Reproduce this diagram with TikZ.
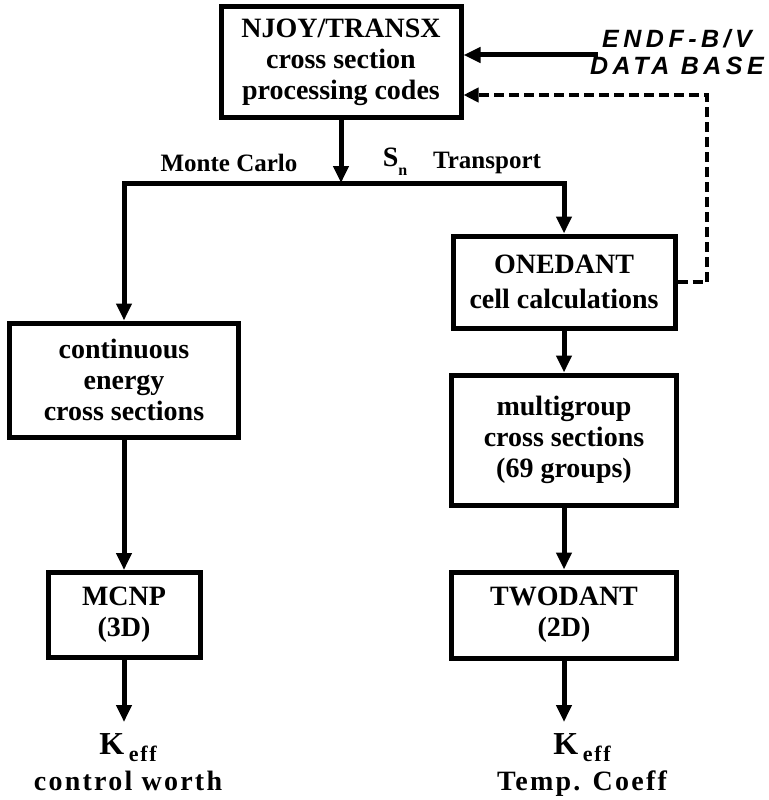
\documentclass[tikz,border=0pt]{standalone}
\usepackage{fontspec}
\setmainfont{Liberation Serif}
\newfontfamily\dbfont[LetterSpace=18]{Liberation Sans}
\newfontfamily\widefont[LetterSpace=8]{Liberation Serif}
\usetikzlibrary{arrows.meta}

\begin{document}
\begin{tikzpicture}[x=1pt,y=-1pt,
  box/.style={draw,line width=5pt,align=center,inner sep=0pt,
    font=\fontsize{28}{31}\selectfont\bfseries},
  flow/.style={line width=5pt,line join=miter,-{Triangle[length=17pt,width=15pt]}},
  feed/.style={line width=4pt,dash pattern=on 10pt off 5pt,-{Triangle[length=15pt,width=14pt]}},
  branch/.style={font=\fontsize{25}{28}\selectfont\bfseries},
  result/.style={align=center,inner xsep=0pt,inner ysep=11pt,anchor=north,
    font=\widefont\fontsize{28}{31}\selectfont\bfseries}]
\def\keff{{\fontsize{32}{32}\selectfont K}\,\raisebox{-7pt}{\fontsize{22}{22}\selectfont eff}}
\useasboundingbox (0,0) rectangle (768,800);

\node[box,minimum width=240pt,minimum height=110pt] (njoy) at (341,62) {NJOY/TRANSX\\cross section\\processing codes};
\node[font=\dbfont\fontsize{25}{27}\selectfont\bfseries\itshape,align=center] (endf) at (677,52) {ENDF-B/V\\DATA BASE};
\node[box,minimum width=229pt,minimum height=114pt] (cont) at (124,380) {continuous\\energy\\cross sections};
\node[box,minimum width=222pt,minimum height=92pt] (onedant) at (564,282) {ONEDANT\\[4pt]cell calculations};
\node[box,minimum width=225pt,minimum height=130pt] (multi) at (564,440) {multigroup\\cross sections\\(69 groups)};
\node[box,minimum width=152pt,minimum height=85pt] (mcnp) at (124,615) {MCNP\\(3D)};
\node[box,minimum width=225pt,minimum height=86pt] (twodant) at (564,615) {TWODANT\\(2D)};
\node[result] (kmc) at (128,722) {\keff\\[5pt]control worth};
\node[result] (ktw) at (582,722) {\keff\\[5pt]Temp. Coeff};

\node[branch] (mc) at (229,163) {Monte Carlo};
\node[branch] (sn) at (395,162) {{\fontsize{28}{28}\selectfont S}\raisebox{-9pt}{\fontsize{16}{16}\selectfont n}};
\node[branch] (tr) at (487,163) {Transport};

\coordinate (split) at (341,183);
\coordinate (db) at (598,55);
\coordinate (ret) at (707,95);

\draw[flow] (njoy) -- (split);
\draw[flow] (split) -| (cont);
\draw[flow] (split) -| (onedant);
\draw[flow] (db) -- (njoy.east |- db);
\draw[feed] (onedant) -| (ret) -- (njoy.east |- ret);
\draw[flow] (onedant) -- (multi);
\draw[flow] (multi) -- (twodant);
\draw[flow] (cont) -- (mcnp);
\draw[flow] (mcnp) -- (mcnp |- kmc.north);
\draw[flow] (twodant) -- (twodant |- ktw.north);
\end{tikzpicture}
\end{document}
